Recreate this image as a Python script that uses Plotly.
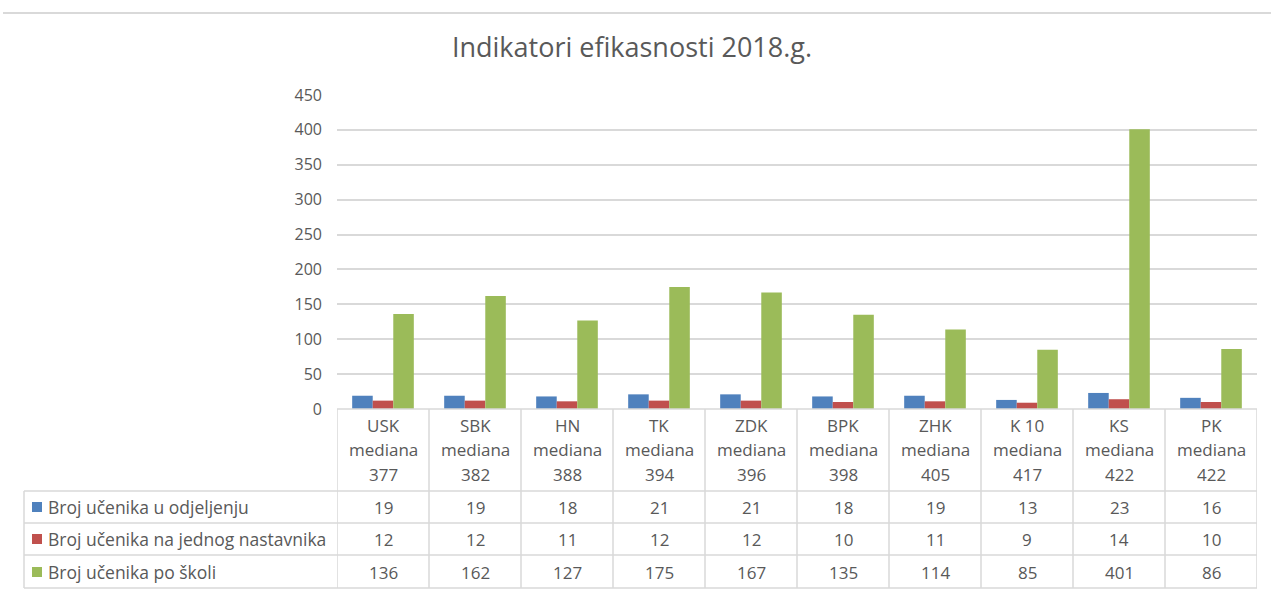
import plotly.graph_objects as go

# Data
kantoni = ["USK", "SBK", "HN", "TK", "ZDK", "BPK", "ZHK", "K 10", "KS", "PK"]
medijane = [377, 382, 388, 394, 396, 398, 405, 417, 422, 422]
serije = [
    "Broj učenika u odjeljenju",
    "Broj učenika na jednog nastavnika",
    "Broj učenika po školi",
]
u_odjeljenju = [19, 19, 18, 21, 21, 18, 19, 13, 23, 16]
po_nastavniku = [12, 12, 11, 12, 12, 10, 11, 9, 14, 10]
po_skoli = [136, 162, 127, 175, 167, 135, 114, 85, 401, 86]
y_ticks = [0, 50, 100, 150, 200, 250, 300, 350, 400, 450]

W, H = 1271, 592
boje = ["#4F81BD", "#C0504D", "#9BBB59"]
tekst = "#595959"
linija = "#D9D9D9"
FONT = "'Open Sans', Lato, sans-serif"


def px(x):
    return x / W


def py(y):
    return 1 - y / H


# layout geometry (pixels)
plot_l, plot_r = 337, 1257
plot_top, plot_bot = 95, 409
tab_l = 24
row_lines = [491, 523, 555, 588]
cat_line_y = [425, 449, 474]
row_text_y = [507, 539, 572]

fig = go.Figure()
vrijednosti = [u_odjeljenju, po_nastavniku, po_skoli]
for ime, vals, boja in zip(serije, vrijednosti, boje):
    fig.add_trace(go.Bar(
        x=kantoni, y=vals, name=ime, marker=dict(color=boja, line=dict(width=0)),
        showlegend=False, hoverinfo="x+y+name",
    ))

shapes = []
annotations = []

# top border line of the sheet
shapes.append(dict(type="line", xref="paper", yref="paper",
                   x0=px(3), x1=1, y0=py(13), y1=py(13),
                   line=dict(color=linija, width=2)))

# axis line / top of category row
shapes.append(dict(type="line", xref="paper", yref="paper",
                   x0=px(plot_l), x1=px(plot_r), y0=py(plot_bot), y1=py(plot_bot),
                   line=dict(color=linija, width=1.5)))

# horizontal table lines
for ry in row_lines:
    shapes.append(dict(type="line", xref="paper", yref="paper",
                       x0=px(tab_l), x1=px(plot_r), y0=py(ry), y1=py(ry),
                       line=dict(color=linija, width=1.5)))

# left border of legend column
shapes.append(dict(type="line", xref="paper", yref="paper",
                   x0=px(tab_l), x1=px(tab_l), y0=py(row_lines[0]), y1=py(row_lines[-1]),
                   line=dict(color=linija, width=1.5)))

# vertical category separators
for i in range(len(kantoni) + 1):
    shapes.append(dict(type="line", xref="x", yref="paper",
                       x0=i - 0.5, x1=i - 0.5, y0=py(plot_bot), y1=py(row_lines[-1]),
                       line=dict(color=linija, width=1.5)))

# category labels
for k, m in zip(kantoni, medijane):
    for txt, yy in zip([k, "mediana", str(m)], cat_line_y):
        annotations.append(dict(x=k, xref="x", y=py(yy), yref="paper",
                                text=txt, showarrow=False, xanchor="center",
                                yanchor="middle", font=dict(size=17, color=tekst, family=FONT)))

# table rows: legend key + values
for ime, vals, boja, yy in zip(serije, vrijednosti, boje, row_text_y):
    shapes.append(dict(type="rect", xref="paper", yref="paper",
                       x0=px(32), x1=px(42), y0=py(yy + 5), y1=py(yy - 5),
                       fillcolor=boja, line=dict(width=0)))
    annotations.append(dict(x=px(46), xref="paper", y=py(yy), yref="paper",
                            text=ime, showarrow=False, xanchor="left", yanchor="middle",
                            font=dict(size=17.5, color=tekst, family=FONT)))
    for k, v in zip(kantoni, vals):
        annotations.append(dict(x=k, xref="x", y=py(yy), yref="paper",
                                text=str(v), showarrow=False, xanchor="center",
                                yanchor="middle", font=dict(size=17, color=tekst, family=FONT)))

fig.update_layout(
    width=W, height=H,
    margin=dict(l=0, r=0, t=0, b=0, pad=0),
    paper_bgcolor="white", plot_bgcolor="white",
    barmode="group", bargap=0.33, bargroupgap=0,
    title=dict(text="Indikatori efikasnosti 2018.g.", x=632 / W, xanchor="center",
               y=py(48), yanchor="middle",
               font=dict(size=27, color=tekst, family=FONT)),
    xaxis=dict(domain=[px(plot_l), px(plot_r)], range=[-0.5, len(kantoni) - 0.5],
               showticklabels=False, showgrid=False, zeroline=False, showline=False,
               automargin=False, fixedrange=True),
    yaxis=dict(domain=[py(plot_bot), py(plot_top)], range=[0, 450],
               tickvals=y_ticks, showgrid=True, gridcolor=linija, gridwidth=1.5,
               zeroline=False, showline=False, ticks="", ticklabelstandoff=14,
               automargin=False,
               tickfont=dict(size=16, color=tekst, family=FONT), fixedrange=True),
    shapes=shapes,
    annotations=annotations,
)

fig.write_html("out.html")
